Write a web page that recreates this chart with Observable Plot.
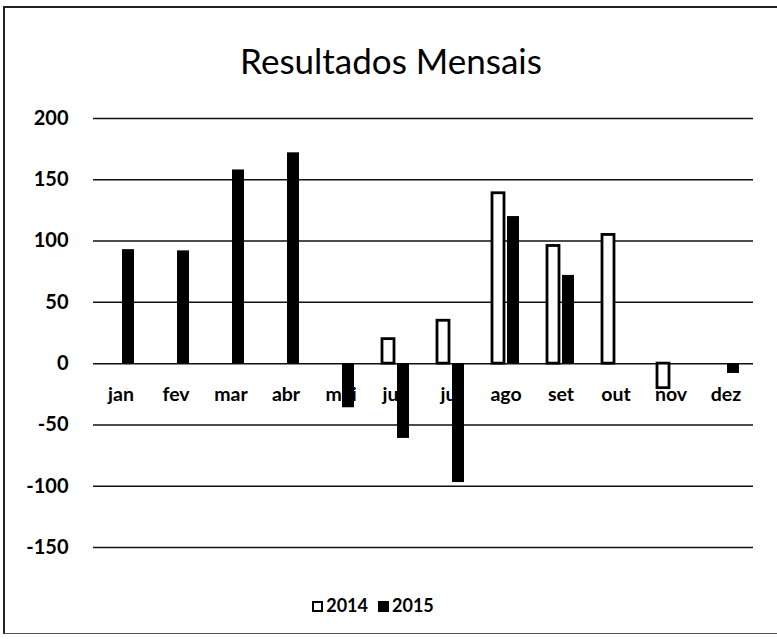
<!DOCTYPE html>
<html>
<head>
<meta charset="utf-8">
<script src="https://cdn.jsdelivr.net/npm/d3@7"></script>
<script src="https://cdn.jsdelivr.net/npm/@observablehq/plot@0.6"></script>
<style>
  html, body { margin: 0; padding: 0; background: #fff; }
  #frame {
    position: relative; box-sizing: border-box;
    border-top: 2px solid #222; border-left: 2px solid #222; border-bottom: 1.5px solid #555;
    margin-top: 6px; margin-left: 3px; width: 774px; height: 628px;
    font-family: Lato, "Open Sans", sans-serif; color: #000;
  }
  #title {
    position: absolute; left: 0; right: 0; top: 30px; text-align: center;
    font-size: 35px; font-weight: normal; line-height: 44px;
  }
  #chart { position: absolute; left: -5px; top: 94px; }
  #legend {
    position: absolute; left: 0; width: 736px; top: 585px; text-align: center;
    font-size: 18px; font-weight: bold; line-height: 24px;
  }
  .sw { display: inline-block; width: 11px; height: 11px; box-sizing: border-box; margin-right: 3px; vertical-align: 0px; }
  .item { margin: 0 5px; }
</style>
</head>
<body>
<div id="frame">
  <div id="title">Resultados Mensais</div>
  <div id="chart"></div>
  <div id="legend"></div>
</div>
<script>
const months = ["jan","fev","mar","abr","mai","jun","jul","ago","set","out","nov","dez"];
const years = ["2014","2015"];
const values2014 = [null,null,null,null,null,20,35,139,96,105,-20,null];
const values2015 = [93,92,158,172,-36,-61,-97,120,72,null,null,-8];
const yTicks = [-150,-100,-50,0,50,100,150,200];

const data = [];
months.forEach((m, i) => {
  if (values2014[i] != null) data.push({month: m, year: "2014", value: values2014[i]});
  if (values2015[i] != null) data.push({month: m, year: "2015", value: values2015[i]});
});

const chart = Plot.plot({
  width: 777,
  height: 480,
  marginTop: 16,
  marginBottom: 35,
  marginLeft: 90,
  marginRight: 21,
  style: {fontFamily: "Lato, 'Open Sans', sans-serif", color: "#000", background: "transparent"},
  fx: {domain: months, padding: 0, axis: null},
  x: {domain: years, paddingInner: 0.1875, paddingOuter: 0.825, axis: null},
  y: {domain: [-150, 200]},
  marks: [
    Plot.ruleY(yTicks, {stroke: "#111", strokeWidth: 1.5}),
    Plot.axisY(yTicks, {tickSize: 0, tickPadding: 25, fontSize: 20, fontWeight: "bold", fill: "#000", label: null, tickFormat: d => String(d)}),
    Plot.text(months, {fx: d => d, y: () => 0, text: d => d, dy: 31, fontSize: 19.5, fontWeight: "bold", fill: "#000"}),
    Plot.barY(data.filter(d => d.year === "2014"), {fx: "month", x: "year", y1: () => 0, y2: "value", fill: "#fff", stroke: "#000", strokeWidth: 2.8}),
    Plot.barY(data.filter(d => d.year === "2015"), {fx: "month", x: "year", y1: () => 0, y2: "value", fill: "#000"})
  ]
});
document.getElementById("chart").appendChild(chart);

const legend = document.getElementById("legend");
years.forEach(y => {
  const item = document.createElement("span");
  item.className = "item";
  const sw = document.createElement("span");
  sw.className = "sw";
  if (y === "2014") { sw.style.background = "#fff"; sw.style.border = "2.5px solid #000"; }
  else { sw.style.background = "#000"; }
  item.appendChild(sw);
  item.appendChild(document.createTextNode(y));
  legend.appendChild(item);
});
</script>
</body>
</html>
